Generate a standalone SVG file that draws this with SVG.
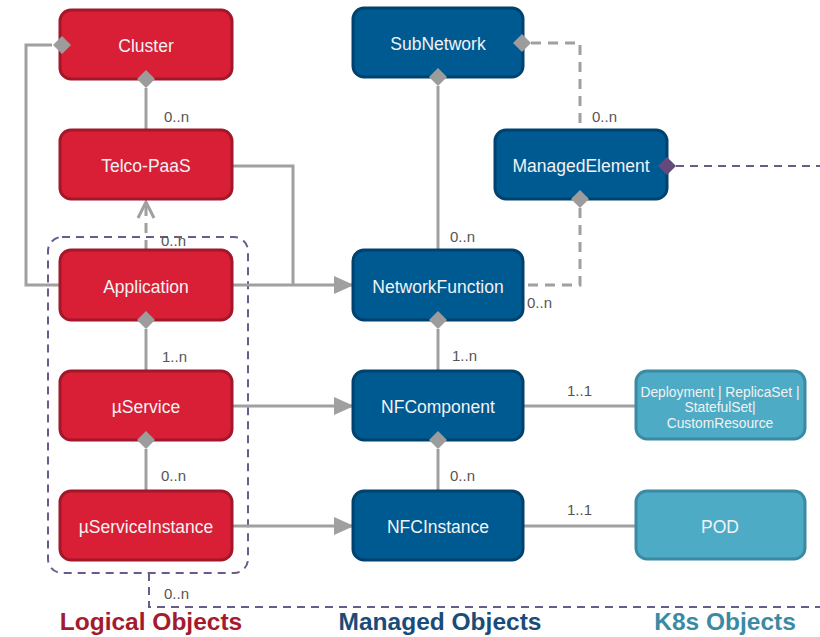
<svg xmlns="http://www.w3.org/2000/svg" width="820" height="637" viewBox="0 0 820 637">
  <defs>
    <style>
      .red rect { fill: #d81f36; stroke: #a3172a; stroke-width: 3; }
      .blue rect { fill: #005a92; stroke: #00426e; stroke-width: 3; }
      .k8s rect { fill: #4eabc6; stroke: #3a8aa3; stroke-width: 3; }
      .node text { font-family: "Liberation Sans", Arial, sans-serif; font-size: 17.5px; fill: #f2f2f2; text-anchor: middle; }
      .k8s text.small { font-size: 13.8px; }
      .solid { fill: none; stroke: #a0a0a0; stroke-width: 3; }
      .dash { fill: none; stroke: #a0a0a0; stroke-width: 3; stroke-dasharray: 10 7; }
      .pdash { fill: none; stroke: #6b5a8c; stroke-width: 2; stroke-dasharray: 8 6; }
      .dia { fill: #9c9c9c; }
      .pdia { fill: #64497d; }
      .mult { font-family: "Liberation Sans", Arial, sans-serif; font-size: 15px; fill: #555555; }
      .title { font-family: "Liberation Sans", Arial, sans-serif; font-size: 24.5px; font-weight: bold; text-anchor: middle; }
    </style>
    <marker id="arrow" viewBox="0 0 20 18" refX="18" refY="9" markerWidth="20" markerHeight="18" markerUnits="userSpaceOnUse" orient="auto">
      <path d="M0,0 L20,9 L0,18 Z" fill="#a0a0a0"/>
    </marker>
    <marker id="openArrow" viewBox="0 0 20 20" refX="18" refY="10" markerWidth="20" markerHeight="20" markerUnits="userSpaceOnUse" orient="auto">
      <path d="M2,2 L18,10 L2,18" fill="none" stroke="#a0a0a0" stroke-width="3"/>
    </marker>
  </defs>

  <!-- grouping of the logical objects -->
  <rect x="48" y="237" width="200" height="336" rx="14" class="pdash"/>

  <g id="connectors">
    <!-- Cluster aggregates Application -->
    <path class="solid" d="M52,45 H26 V285 H60"/>
    <!-- Cluster aggregates Telco-PaaS -->
    <path class="solid" d="M146,88 V130"/>
    <!-- Application depends on Telco-PaaS -->
    <path class="dash" d="M146,250 V202" marker-end="url(#openArrow)"/>
    <!-- Telco-PaaS and Application map onto NetworkFunction -->
    <path class="solid" d="M232,166 H293 V285"/>
    <path class="solid" d="M232,285 H352" marker-end="url(#arrow)"/>
    <!-- Application aggregates µService -->
    <path class="solid" d="M146,329 V370"/>
    <!-- µService aggregates µServiceInstance -->
    <path class="solid" d="M146,449 V491"/>
    <!-- µService / µServiceInstance map onto NFComponent / NFCInstance -->
    <path class="solid" d="M232,406 H352" marker-end="url(#arrow)"/>
    <path class="solid" d="M232,526 H352" marker-end="url(#arrow)"/>
    <!-- SubNetwork aggregates NetworkFunction -->
    <path class="solid" d="M438,86 V250"/>
    <!-- SubNetwork aggregates ManagedElement -->
    <path class="dash" d="M531,43 H580 V130"/>
    <!-- ManagedElement aggregates NetworkFunction -->
    <path class="dash" d="M580,208 V285 H523"/>
    <!-- NetworkFunction aggregates NFComponent -->
    <path class="solid" d="M438,329 V370"/>
    <!-- NFComponent aggregates NFCInstance -->
    <path class="solid" d="M438,449 V491"/>
    <!-- managed objects to K8s objects -->
    <path class="solid" d="M523,406 H635"/>
    <path class="solid" d="M523,526 H635"/>
    <!-- ManagedElement to the logical grouping -->
    <path class="pdash" d="M676,166 H820"/>
    <path class="pdash" d="M149,573 V607 H820"/>
  </g>

  <g id="cluster" class="node red">
    <rect x="60" y="10" width="172" height="69" rx="11"/>
    <text x="146" y="52">Cluster</text>
  </g>
  <g id="telco-paas" class="node red">
    <rect x="60" y="130" width="172" height="69" rx="11"/>
    <text x="146" y="172">Telco-PaaS</text>
  </g>
  <g id="application" class="node red">
    <rect x="60" y="250" width="172" height="70" rx="11"/>
    <text x="146" y="293">Application</text>
  </g>
  <g id="uservice" class="node red">
    <rect x="60" y="371" width="172" height="69" rx="11"/>
    <text x="146" y="413">µService</text>
  </g>
  <g id="uservice-instance" class="node red">
    <rect x="60" y="491" width="172" height="69" rx="11"/>
    <text x="146" y="533">µServiceInstance</text>
  </g>

  <g id="subnetwork" class="node blue">
    <rect x="353" y="8" width="170" height="69" rx="11"/>
    <text x="438" y="50">SubNetwork</text>
  </g>
  <g id="managed-element" class="node blue">
    <rect x="495" y="130" width="172" height="69" rx="11"/>
    <text x="581" y="172">ManagedElement</text>
  </g>
  <g id="network-function" class="node blue">
    <rect x="353" y="250" width="170" height="70" rx="11"/>
    <text x="438" y="293">NetworkFunction</text>
  </g>
  <g id="nf-component" class="node blue">
    <rect x="353" y="371" width="170" height="69" rx="11"/>
    <text x="438" y="413">NFComponent</text>
  </g>
  <g id="nfc-instance" class="node blue">
    <rect x="353" y="491" width="170" height="69" rx="11"/>
    <text x="438" y="533">NFCInstance</text>
  </g>

  <g id="k8s-workload" class="node k8s">
    <rect x="636" y="371" width="169" height="68" rx="11"/>
    <text class="small" x="720" y="397">Deployment | ReplicaSet |</text>
    <text class="small" x="720" y="412">StatefulSet|</text>
    <text class="small" x="720" y="428">CustomResource</text>
  </g>
  <g id="k8s-pod" class="node k8s">
    <rect x="636" y="491" width="169" height="68" rx="11"/>
    <text x="720" y="533">POD</text>
  </g>

  <!-- aggregation diamonds -->
  <g id="diamonds">
    <path class="dia" d="M62,36 L71,45 L62,54 L53,45 Z"/>
    <path class="dia" d="M146,70 L155,79 L146,88 L137,79 Z"/>
    <path class="dia" d="M146,311 L155,320 L146,329 L137,320 Z"/>
    <path class="dia" d="M146,431 L155,440 L146,449 L137,440 Z"/>
    <path class="dia" d="M438,68 L447,77 L438,86 L429,77 Z"/>
    <path class="dia" d="M522,34 L531,43 L522,52 L513,43 Z"/>
    <path class="dia" d="M580,190 L589,199 L580,208 L571,199 Z"/>
    <path class="dia" d="M438,311 L447,320 L438,329 L429,320 Z"/>
    <path class="dia" d="M438,431 L447,440 L438,449 L429,440 Z"/>
    <path class="pdia" d="M667,157 L676,166 L667,175 L658,166 Z"/>
  </g>

  <!-- multiplicities -->
  <g id="labels">
    <text class="mult" x="164" y="122">0..n</text>
    <text class="mult" x="161" y="246">0..n</text>
    <text class="mult" x="162" y="362">1..n</text>
    <text class="mult" x="161" y="481">0..n</text>
    <text class="mult" x="164" y="599">0..n</text>
    <text class="mult" x="450" y="242">0..n</text>
    <text class="mult" x="592" y="122">0..n</text>
    <text class="mult" x="527" y="308">0..n</text>
    <text class="mult" x="452" y="361">1..n</text>
    <text class="mult" x="450" y="481">0..n</text>
    <text class="mult" x="567" y="396">1..1</text>
    <text class="mult" x="567" y="515">1..1</text>
  </g>

  <g id="titles">
    <text class="title" x="151" y="630" fill="#a31b2c">Logical Objects</text>
    <text class="title" x="440" y="630" fill="#1a4c78">Managed Objects</text>
    <text class="title" x="725" y="630" fill="#3b8aa3">K8s Objects</text>
  </g>
</svg>
